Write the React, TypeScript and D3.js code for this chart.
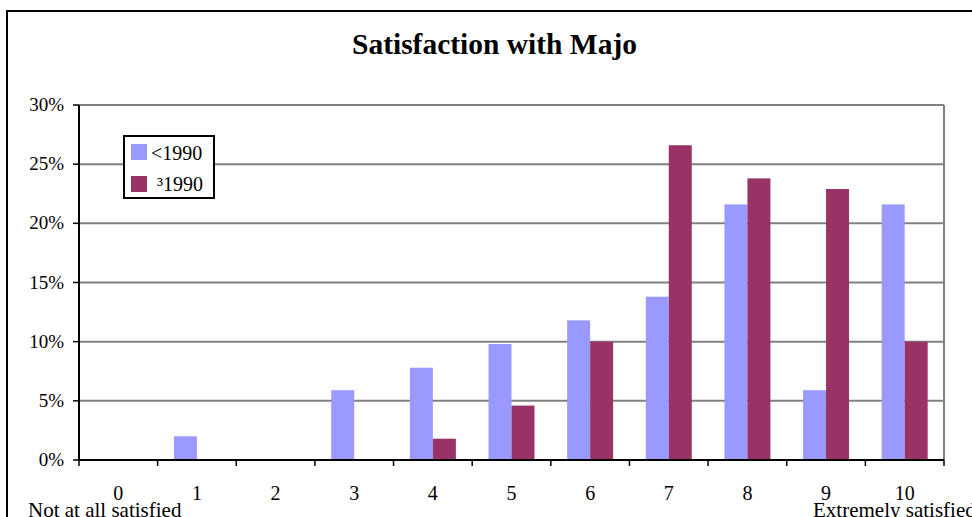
import * as d3 from "d3";

const categories = ["0", "1", "2", "3", "4", "5", "6", "7", "8", "9", "10"];
const seriesNames = ["<1990", "³1990"];
const before1990 = [0, 2.0, 0, 5.9, 7.8, 9.8, 11.8, 13.8, 21.6, 5.9, 21.6];
const since1990 = [0, 0, 0, 0, 1.8, 4.6, 10.0, 26.6, 23.8, 22.9, 10.0];
const yTicks = [0, 5, 10, 15, 20, 25, 30];
const colors = ["#9999FF", "#993366"];

const W = 972;
const H = 517;
const plot = { left: 79, right: 944, top: 105, bottom: 460 };
const font = "'Liberation Serif', 'Times New Roman', serif";

export default function App() {
  const x = d3.scaleBand<string>().domain(categories).range([plot.left, plot.right]).padding(0);
  const xs = d3
    .scaleBand<string>()
    .domain(seriesNames)
    .range([0, x.bandwidth()])
    .paddingInner(0)
    .paddingOuter(0.71);
  const y = d3.scaleLinear().domain([0, 30]).range([plot.bottom, plot.top]);
  const series = [before1990, since1990];
  const tickEdges = [...categories.map((c) => x(c) ?? 0), plot.right];

  return (
    <svg
      width={W}
      height={H}
      style={{ position: "absolute", left: 0, top: 0, background: "#fff", overflow: "hidden" }}
      fontFamily={font}
    >
      <rect x={7} y={11} width={W + 20} height={H + 20} fill="#fff" stroke="#000" strokeWidth={2} />
      <text x={352} y={54} fontSize={29} fontWeight="bold" fill="#000" textLength={285} lengthAdjust="spacingAndGlyphs">
        Satisfaction with Majo
      </text>

      {/* gridlines */}
      {yTicks.map((t) => (
        <line key={t} x1={plot.left} x2={plot.right} y1={y(t)} y2={y(t)} stroke="#808080" strokeWidth={2} />
      ))}
      <line x1={plot.right} x2={plot.right} y1={plot.top} y2={plot.bottom} stroke="#808080" strokeWidth={2} />

      {/* bars */}
      {series.map((vals, si) =>
        vals.map((v, i) =>
          v > 0 ? (
            <rect
              key={`${si}-${i}`}
              x={(x(categories[i]) ?? 0) + (xs(seriesNames[si]) ?? 0)}
              y={y(v)}
              width={xs.bandwidth()}
              height={y(0) - y(v)}
              fill={colors[si]}
            />
          ) : null,
        ),
      )}

      {/* y axis */}
      <line x1={plot.left} x2={plot.left} y1={plot.top} y2={plot.bottom} stroke="#000" strokeWidth={2} />
      {yTicks.map((t) => (
        <g key={t}>
          <line x1={plot.left - 6} x2={plot.left} y1={y(t)} y2={y(t)} stroke="#000" strokeWidth={1.5} />
          <text x={64} y={y(t) + 6} fontSize={19} textAnchor="end" fill="#000">
            {t}%
          </text>
        </g>
      ))}

      {/* x axis */}
      <line x1={plot.left} x2={plot.right} y1={plot.bottom} y2={plot.bottom} stroke="#000" strokeWidth={2} />
      {tickEdges.map((px, i) => (
        <line key={i} x1={px} x2={px} y1={plot.bottom} y2={plot.bottom + 6} stroke="#000" strokeWidth={1.5} />
      ))}
      {categories.map((c) => (
        <text key={c} x={(x(c) ?? 0) + x.bandwidth() / 2} y={500} fontSize={20} textAnchor="middle" fill="#000">
          {c}
        </text>
      ))}
      <text x={28} y={517} fontSize={21} fill="#000">
        Not at all satisfied
      </text>
      <text x={813} y={517} fontSize={21} fill="#000">
        Extremely satisfied
      </text>

      {/* legend */}
      <rect x={124} y={136} width={90} height={62} fill="#fff" stroke="#000" strokeWidth={2} />
      {seriesNames.map((s, i) => (
        <g key={s}>
          <rect x={131} y={144 + i * 32} width={16} height={16} fill={colors[i]} />
          <text x={i === 0 ? 151 : 157} y={160 + i * 31} fontSize={20} fill="#000">
            {s}
          </text>
        </g>
      ))}
    </svg>
  );
}
